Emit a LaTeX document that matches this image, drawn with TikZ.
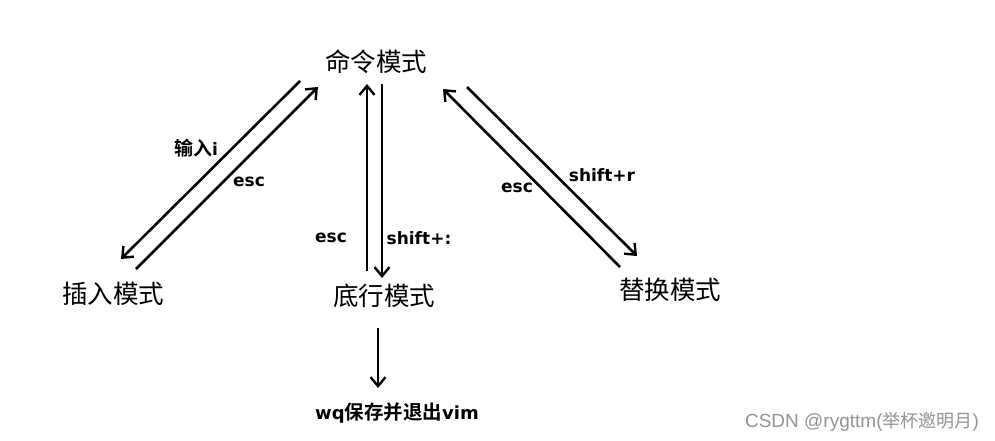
\documentclass[tikz,border=0pt]{standalone}
\usepackage{fontspec}
\setmainfont{Noto Sans CJK SC}
\newfontfamily\cjkb{Noto Sans CJK SC Bold}
\newfontfamily\latfam{DejaVu Sans}
\newfontfamily\wmlat{Liberation Sans}
\newcommand\lb{\latfam\bfseries}
\usetikzlibrary{arrows.meta}
\tikzset{
  mode/.style={font=\fontsize{25.5}{28}\selectfont, inner sep=0pt},
  lbl/.style={font=\fontsize{17}{20}\selectfont, inner sep=0pt},
  conn/.style={line width=2.6pt, -{Straight Barb[length=9pt,width=15pt,line width=2.4pt]}},
}
\begin{document}
\begin{tikzpicture}[x=1pt,y=-1pt]
\path[use as bounding box, fill=white] (0,0) rectangle (995,441);
\node[mode] (cmd) at (376,62) {命令模式};
\node[mode] (ins) at (113,294) {插入模式};
\node[mode] (bot) at (384,296) {底行模式};
\node[mode] (rep) at (670,290) {替换模式};
\node[inner sep=0pt, font=\fontsize{18}{20}\selectfont] (wq) at (397,413) {{\lb wq}{\cjkb\fontsize{19.5}{21}\selectfont 保存并退出}{\lb vim}};
\node[inner sep=0pt, text=black!42] (wm) at (862,422) {{\wmlat\fontsize{19}{21}\selectfont CSDN @rygttm(}{\fontsize{18}{20}\selectfont 举杯邀明月}{\wmlat\fontsize{19}{21}\selectfont )}};
% coordinates
\coordinate (a1s) at (300,81);  \coordinate (a1e) at (121,259);
\coordinate (a2s) at (136,269); \coordinate (a2e) at (318,87);
\coordinate (m1s) at (367,271); \coordinate (m1e) at (367,84);
\coordinate (m2s) at (382,84);  \coordinate (m2e) at (382,278);
\coordinate (r1s) at (620,267); \coordinate (r1e) at (443,89);
\coordinate (r2s) at (467,87);  \coordinate (r2e) at (637,256);
\coordinate (bs) at (378,328);  \coordinate (be) at (378,388);
\draw[conn] (a1s) -- (a1e);
\draw[conn] (a2s) -- (a2e);
\draw[conn] (m1s) -- (m1e);
\draw[conn] (m2s) -- (m2e);
\draw[conn] (r1s) -- (r1e);
\draw[conn] (r2s) -- (r2e);
\draw[conn] (bs) -- (be);
\node[lbl] (l1) at (196,148) {{\cjkb\fontsize{19}{21}\selectfont 输入}{\lb i}};
\node[lbl] (l2) at (249,182) {\lb esc};
\node[lbl] (l3) at (331,238) {\lb esc};
\node[lbl] (l4) at (419,238) {\lb shift+:};
\node[lbl] (l5) at (517,188) {\lb esc};
\node[lbl] (l6) at (602,175) {\lb shift+r};
\end{tikzpicture}
\end{document}
